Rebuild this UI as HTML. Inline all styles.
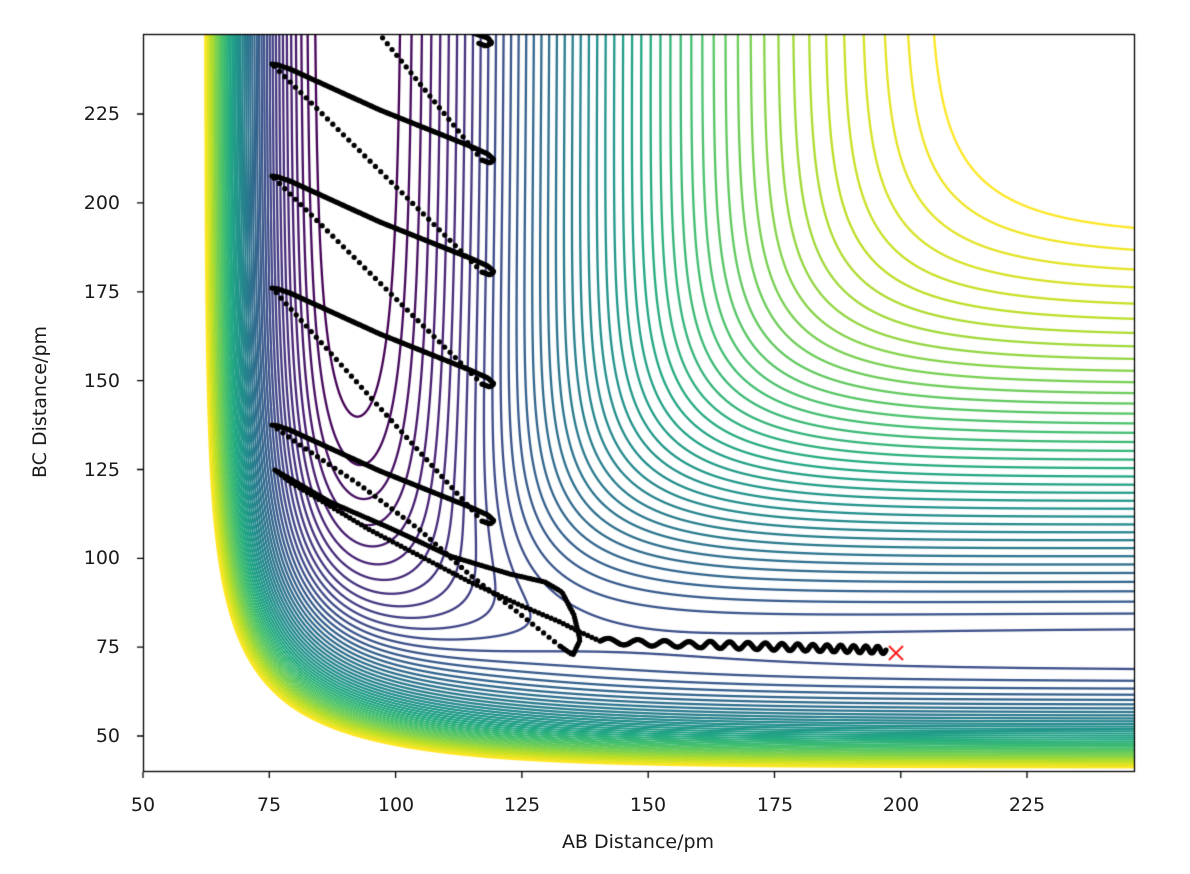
<!DOCTYPE html>
<html><head><meta charset="utf-8">
<style>
html,body{margin:0;padding:0;background:#fff;}
#wrap{position:relative;width:1190px;height:874px;overflow:hidden;background:#fff;font-family:"DejaVu Sans","Liberation Sans",sans-serif;color:#1a1a1a;}
canvas{position:absolute;left:0;top:0;}
.t{position:absolute;font-size:19px;line-height:20px;}
.xt{transform:translateX(-50%);top:795px;}
.yt{right:1070px;transform:translateY(-50%);text-align:right;}
</style></head>
<body><div id="wrap">
<canvas id="c" width="1190" height="874"></canvas>
<div class="t xt" style="left:143px">50</div>
<div class="t xt" style="left:269px">75</div>
<div class="t xt" style="left:396px">100</div>
<div class="t xt" style="left:522px">125</div>
<div class="t xt" style="left:648px">150</div>
<div class="t xt" style="left:775px">175</div>
<div class="t xt" style="left:901px">200</div>
<div class="t xt" style="left:1027px">225</div>
<div class="t yt" style="top:736px">50</div>
<div class="t yt" style="top:647px">75</div>
<div class="t yt" style="top:558px">100</div>
<div class="t yt" style="top:470px">125</div>
<div class="t yt" style="top:381px">150</div>
<div class="t yt" style="top:292px">175</div>
<div class="t yt" style="top:203px">200</div>
<div class="t yt" style="top:114px">225</div>
<div class="t" style="left:638px;top:832px;transform:translateX(-50%)">AB Distance/pm</div>
<div class="t" style="left:40px;top:402px;transform:translate(-50%,-50%) rotate(-90deg);white-space:nowrap">BC Distance/pm</div>
</div>
<script>
(function(){
var cv=document.getElementById('c'),ctx=cv.getContext('2d');
var X0=143,Y0=34,W=991,H=737,SX=5.052,SY=3.554;
function du(px){return 50+(px-143)/SX;}
function dv(py){return 50+(736-py)/SY;}
function pair(r,D,re,b,S){var e=Math.exp(-b*(r-re));var E1=D*(e*e-2*e),E3=D/2*(e*e+2*e);
 return [((1+S)*E1+(1-S)*E3)/2/(1+S),((1+S)*E1-(1-S)*E3)/2/(1+S)];}
function V(u,v){
 var a=pair(u,591,91.7,0.02219,0.167),b=pair(v,458,74.1,0.01942,0.106),c=pair(u+v,591,91.7,0.02219,0.167);
 var J1=a[1],J2=b[1],J3=c[1];
 return a[0]+b[0]+c[0]-Math.sqrt(Math.max(0,0.5*((J1-J2)*(J1-J2)+(J2-J3)*(J2-J3)+(J3-J1)*(J3-J1))));
}
var L0=V(93,140),dV=(V(93,119)-L0);
if(!(dV>0))dV=8;
var Ltop=V(246,193);
var N=Math.round((Ltop-L0)/(dV*0.58));
dV=(Ltop-L0)/N;
var vs=[[68,1,84],[72,36,117],[65,68,135],[53,95,141],[42,120,142],[33,145,140],[34,168,132],[68,191,112],[122,209,81],[189,223,38],[253,231,37]];
function vir(t){t=Math.max(0,Math.min(1,t))*10;var i=Math.min(9,Math.floor(t)),f=t-i,a=vs[i],b=vs[i+1];
 return [a[0]+(b[0]-a[0])*f,a[1]+(b[1]-a[1])*f,a[2]+(b[2]-a[2])*f];}
var GW=W+2,GH=H+2,G=new Float64Array(GW*GH);
for(var j=0;j<GH;j++){var vv=dv(Y0+j-0.5);for(var i=0;i<GW;i++){G[j*GW+i]=V(du(X0+i-0.5),vv);}}
var img=ctx.createImageData(W,H),d=img.data;
for(var j=0;j<H;j++)for(var i=0;i<W;i++){
 var p=(j+1)*GW+(i+1),val=G[p];
 var gx=(G[p+1]-G[p-1])/2,gy=(G[p+GW]-G[p-GW])/2,g=Math.sqrt(gx*gx+gy*gy)+1e-9;
 var k=Math.round((val-L0)/dV);if(k<0)k=0;if(k>N)k=N;
 var dist=Math.abs(val-(L0+k*dV))/g;
 var al=Math.max(0,Math.min(1,1.65-dist));
 var q=(j*W+i)*4;
 if(al>0){var c=vir(k/N);d[q]=255+(c[0]-255)*al;d[q+1]=255+(c[1]-255)*al;d[q+2]=255+(c[2]-255)*al;}
 else{d[q]=255;d[q+1]=255;d[q+2]=255;}
 d[q+3]=255;
}
ctx.putImageData(img,X0,Y0);
ctx.save();ctx.beginPath();ctx.rect(X0,Y0,W,H);ctx.clip();
ctx.fillStyle='#000';
function dots(pts,step,r){
 r=r||2.6;var carry=0;
 for(var s=0;s<pts.length-1;s++){var a=pts[s],b=pts[s+1],dx=b[0]-a[0],dy=b[1]-a[1],L=Math.sqrt(dx*dx+dy*dy);
  var t=carry;while(t<=L){ctx.beginPath();ctx.arc(a[0]+dx*t/L,a[1]+dy*t/L,r,0,6.2832);ctx.fill();t+=step;}carry=t-L;}
}
var wave=[],x=886,ph=0;
while(x>600){var per=x>700?11+(886-x)*0.05:22+(700-x)*0.1;var amp=x>700?3.5:3;
 var y=650-(886-x)*0.03+amp*Math.sin(ph);if(x<700)y=645-(700-x)*0.04+amp*Math.sin(ph);
 wave.push([x,y]);x-=0.5;ph+=2*Math.PI*0.5/per;}
dots(wave,1.5);
dots([[600,641],[580,632],[560,622],[520,605],[470,582],[420,556],[370,530],[320,500],[290,482],[275,470]],4.5);
dots([[275,470],[330,502],[390,528],[450,556],[510,574],[545,582],[562,592],[574,615],[580,640],[573,655],[560,646]],3);
dots([[560,646],[520,614],[470,575],[420,530],[360,485],[300,445],[276,428],[272,425]],7);
var Ls=[425,288,176,64],Rs=[508,385,270,158,42];
for(var k=0;k<4;k++){
 var y0=Ls[k];
 dots([[272,y0],[278,y0+1],[290,y0+5],[380,y0+46],[470,y0+82],[488,y0+90],[494,y0+96],[490,y0+99],[482,y0+96]],2.2);
 var ny=(k<3)?Ls[k+1]:Rs[4]-140;
 dots([[482,y0+96],[272,ny]],7.5);
}
dots([[430,20],[470,32],[488,38],[492,43],[486,46],[478,43]],2.2);
ctx.restore();
ctx.strokeStyle='#ff2020';ctx.lineWidth=2;ctx.beginPath();
ctx.moveTo(889,646);ctx.lineTo(903,660);ctx.moveTo(903,646);ctx.lineTo(889,660);ctx.stroke();
ctx.strokeStyle='#000';ctx.lineWidth=1.3;ctx.strokeRect(X0+0.5,Y0+0.5,W,H);
ctx.beginPath();
[143,269.3,395.6,521.9,648.2,774.5,900.8,1027].forEach(function(p){ctx.moveTo(p,772);ctx.lineTo(p,778);});
[736,647.2,558.3,469.5,380.6,291.8,202.9,114].forEach(function(p){ctx.moveTo(143,p);ctx.lineTo(137,p);});
ctx.stroke();
})();
</script>
</body></html>
